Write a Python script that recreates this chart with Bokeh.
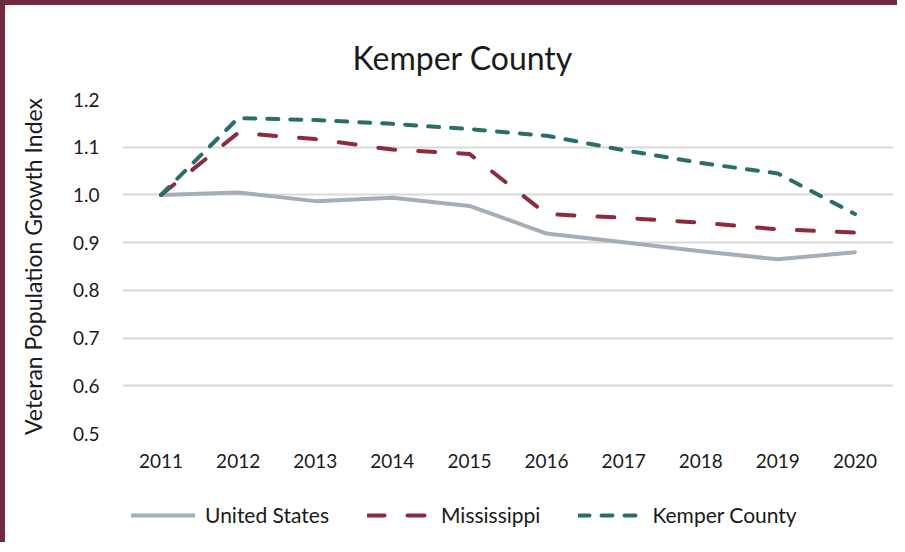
from bokeh.plotting import figure
from bokeh.layouts import column
from bokeh.models import (Range1d, FixedTicker, NumeralTickFormatter, Legend,
                          LegendItem, ColumnDataSource)
from bokeh.embed import file_html
from bokeh.resources import INLINE

years = ["2011", "2012", "2013", "2014", "2015", "2016", "2017", "2018", "2019", "2020"]
united_states = [1.000, 1.005, 0.987, 0.994, 0.977, 0.919, 0.901, 0.882, 0.865, 0.880]
mississippi = [1.000, 1.130, 1.117, 1.095, 1.086, 0.960, 0.952, 0.942, 0.928, 0.921]
kemper = [1.000, 1.161, 1.157, 1.149, 1.138, 1.124, 1.094, 1.067, 1.045, 0.960]
y_ticks = [0.5, 0.6, 0.7, 0.8, 0.9, 1.0, 1.1, 1.2]
series_names = ["United States", "Mississippi", "Kemper County"]

FONT = "Lato"
TEXT = "#1a1a1a"
COLORS = ["#A4AEB8", "#8C2B3E", "#2A6D6B"]
DASHES = ["solid", "17 23", "11 12"]
COLS = ["us", "ms", "kc"]

src = ColumnDataSource(dict(year=years, us=united_states, ms=mississippi, kc=kemper))

W = 892
p = figure(x_range=years, y_range=Range1d(0.5, 1.2), width=W, height=480,
           output_backend="svg", toolbar_location=None,
           min_border_left=117, min_border_right=4, min_border_top=94,
           min_border_bottom=52, background_fill_color="white",
           border_fill_color="white", outline_line_color=None)

p.title.text = "Kemper County"
p.title.text_font = FONT
p.title.text_font_size = "32px"
p.title.text_font_style = "normal"
p.title.text_color = TEXT
p.title.align = "left"
p.title.offset = 230
p.title.standoff = 46

for col, c, d in zip(COLS, COLORS, DASHES):
    p.line("year", col, source=src, line_color=c, line_width=4,
           line_dash=d, line_join="round", line_cap="round")

p.yaxis.ticker = FixedTicker(ticks=y_ticks)
p.yaxis.formatter = NumeralTickFormatter(format="0.0")
p.yaxis.axis_label = "Veteran Population Growth Index"
p.yaxis.axis_label_text_font = FONT
p.yaxis.axis_label_text_font_size = "23px"
p.yaxis.axis_label_text_font_style = "normal"
p.yaxis.axis_label_text_color = TEXT
p.yaxis.axis_label_standoff = 23
p.yaxis.major_label_standoff = 17

for ax in (p.xaxis, p.yaxis):
    ax.axis_line_color = None
    ax.major_tick_line_color = None
    ax.minor_tick_line_color = None
    ax.major_label_text_font = FONT
    ax.major_label_text_font_size = "19px"
    ax.major_label_text_color = TEXT
p.xaxis.major_label_standoff = 14

p.xgrid.grid_line_color = None
p.ygrid.grid_line_color = "#D9D9D9"
p.ygrid.grid_line_width = 2

# legend strip below the chart (same series, drawn outside its visible y range)
LH = 57
pl = figure(width=W, height=LH, x_range=p.x_range, y_range=Range1d(10, 11),
            output_backend="svg", toolbar_location=None, min_border=0,
            outline_line_color=None, background_fill_color="white",
            border_fill_color="white")
pl.axis.visible = False
pl.grid.visible = False
items = []
for name, col, c, d in zip(series_names, COLS, COLORS, DASHES):
    r = pl.line("year", col, source=src, line_color=c, line_width=4,
                line_dash=d, line_cap="round")
    items.append(LegendItem(label=name, renderers=[r]))
legend = Legend(items=items, orientation="horizontal", location=(9, 15),
                glyph_width=64, glyph_height=24, label_height=24, label_standoff=10,
                spacing=38, label_text_font=FONT, label_text_font_size="21px",
                label_text_color=TEXT, border_line_color=None,
                background_fill_alpha=0, margin=0, padding=0)
pl.add_layout(legend)

page = column(p, pl, spacing=0,
              styles={"border-left": "5px solid #722B3D", "border-top": "5px solid #722B3D"})

open("out.html", "w").write(file_html(page, INLINE))
